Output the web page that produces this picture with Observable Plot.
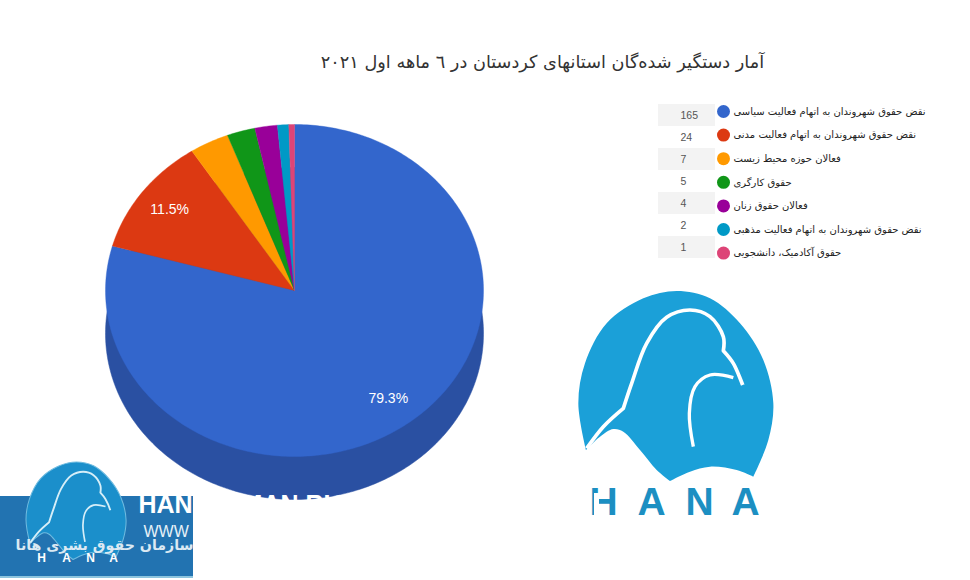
<!DOCTYPE html>
<html><head><meta charset="utf-8">
<script src="https://cdn.jsdelivr.net/npm/d3@7"></script>
<script src="https://cdn.jsdelivr.net/npm/@observablehq/plot@0.6"></script>
<style>html,body{margin:0;padding:0;background:#fff}svg{display:block}</style>
</head><body><div id="chart"></div>
<script>
const categories = [
  "نقض حقوق شهروندان به اتهام فعالیت سیاسی",
  "نقض حقوق شهروندان به اتهام فعالیت مدنی",
  "فعالان حوزه محیط زیست",
  "حقوق کارگری",
  "فعالان حقوق زنان",
  "نقض حقوق شهروندان به اتهام فعالیت مذهبی",
  "حقوق آکادمیک، دانشجویی"
];
const counts = [165, 24, 7, 5, 4, 2, 1];
const colors = ["#3366cc", "#dc3912", "#ff9900", "#109618", "#990099", "#0099c6", "#dd4477"];
const title = "آمار دستگیر شده‌گان استانهای کردستان در ٦ ماهه اول ٢٠٢١";

// Layout
const P = {cx: 294, cy: 290, rx: 189, ry: 166, depth: 43};
const ARABIC = "'DejaVu Sans', sans-serif", LATIN = "'Liberation Sans', Arial, sans-serif";
const total = d3.sum(counts);
const arcs = d3.pie().sort(null).startAngle(0).endAngle(2 * Math.PI)(counts);
const px = (a, k = 1) => P.cx + P.rx * k * Math.sin(a);
const py = (a, k = 1, dz = 0) => P.cy - P.ry * k * Math.cos(a) + dz;
function slicePts(arc, dz) {
  const n = Math.max(4, Math.ceil((arc.endAngle - arc.startAngle) * 60));
  const pts = [{x: P.cx, y: P.cy + dz}];
  for (let i = 0; i <= n; i++) {
    const a = arc.startAngle + (arc.endAngle - arc.startAngle) * i / n;
    pts.push({x: px(a), y: py(a, 1, dz)});
  }
  pts.push({x: P.cx, y: P.cy + dz});
  return pts;
}
const legendY = i => 111 + i * 23.6;
const valueY = i => 115 + i * 22;
const rows = categories.map((c, i) => ({c, v: counts[i], col: colors[i], i}));
const labels = arcs.filter(a => a.value / total > 0.05).map(a => {
  const m = (a.startAngle + a.endAngle) / 2;
  return {x: px(m, 0.82), y: py(m, 0.82), t: d3.format(".1%")(a.value / total)};
});

// Logo drawn in its own local coordinates
const outerA = [[78,510],[55,370],[75,250],[140,130],[250,55],[350,33],[450,55],[540,130],[610,240],[640,370],[625,480],[580,590]];
const outerB = [[580,590],[530,570],[450,560],[390,575],[330,603]];
const outerC = [[330,603],[290,570],[240,510],[190,455],[160,447],[120,470],[78,510]];
const wingA = [[80,505],[130,440],[190,385]];
const wingB = [[190,385],[215,310],[260,190],[320,112],[390,90],[450,110],[490,170],[490,212]];
const wingC = [[490,212],[520,250],[548,315]];
const inner = [[400,500],[388,400],[405,320],[450,285],[520,293]];
const cr = d3.line().curve(d3.curveCatmullRom);
const join = (...s) => s.map((p, i) => i ? cr(p).replace(/^M/, "L") : cr(p)).join("");
function logo(tx, ty, s, fill, lineStroke, edge) {
  return () => {
    const g = d3.create("svg:g").attr("transform", `translate(${tx},${ty}) scale(${s})`);
    g.append("path").attr("d", join(outerA, outerB, outerC) + "Z").attr("fill", fill)
      .attr("stroke", edge).attr("stroke-width", edge === "none" ? 0 : 6);
    g.append("path").attr("d", join(wingA, wingB, wingC)).attr("fill", "none")
      .attr("stroke", lineStroke).attr("stroke-width", 11).attr("stroke-linejoin", "round");
    g.append("path").attr("d", cr(inner)).attr("fill", "none")
      .attr("stroke", lineStroke).attr("stroke-width", 10);
    return g.node();
  };
}
const txt = (x, y, t, o) => Plot.text([t], {x: () => x, y: () => y, text: d => d, ...o});

const chart = Plot.plot({
  width: 970, height: 580, margin: 0,
  x: {domain: [0, 970], range: [0, 970], axis: null},
  y: {domain: [0, 580], range: [0, 580], axis: null},
  marks: [
    // pie: side wall then top
    ...arcs.map((a, i) => Plot.line(slicePts(a, P.depth), {x: "x", y: "y", fill: "#2a50a2", stroke: "#2a50a2", strokeWidth: 0.5})),
    ...arcs.map((a, i) => Plot.line(slicePts(a, 0), {x: "x", y: "y", fill: colors[i], stroke: colors[i], strokeWidth: 0.4})),
    Plot.text(labels, {x: "x", y: "y", text: "t", fill: "white", fontSize: 14, fontFamily: LATIN}),
    // title
    txt(542, 62, title, {fontSize: 17.7, fill: "#333", fontFamily: ARABIC}),
    // legend
    Plot.rect(rows.filter(d => d.i % 2 === 0), {x1: () => 658, x2: () => 715, y1: d => valueY(d.i) - 11, y2: d => valueY(d.i) + 11, fill: "#f3f3f3"}),
    Plot.text(rows, {x: () => 680, y: d => valueY(d.i), text: d => String(d.v), textAnchor: "start", fontSize: 10.5, fill: "#555", fontFamily: LATIN}),
    Plot.dot(rows, {x: () => 723, y: d => legendY(d.i), r: 6.5, fill: "col", stroke: "none"}),
    Plot.text(rows, {x: () => 733, y: d => legendY(d.i), text: "c", textAnchor: "start", fontSize: 10, fill: "#222", fontFamily: ARABIC}),
    // main logo
    logo(560, 280, 1 / 3, "#1ba0d8", "white", "none"),
    ...[["H", 603], ["A", 651], ["N", 699], ["A", 745]].map(([t, x]) =>
      txt(x, 502.5, t, {fontSize: 39, fontWeight: "bold", fill: "#1c8fc2", fontFamily: LATIN})),
    Plot.rect([0], {x1: () => 594, x2: () => 599, y1: () => 493, y2: () => 515, fill: "white"}),
    // footer banner
    Plot.rect([0], {x1: () => 0, x2: () => 193, y1: () => 496, y2: () => 576, fill: "#2273b1"}),
    Plot.rect([0], {x1: () => 0, x2: () => 193, y1: () => 576, y2: () => 578, fill: "#8cc4de"}),
    logo(16.6, 456.4, 0.171, "#1b8fcb", "#d6eef8", "#6fbbe0"),
    txt(138, 504, "HANA", {textAnchor: "start", fontSize: 25, fontWeight: "bold", fill: "white", fontFamily: LATIN}),
    txt(205, 504, "HUMAN RIGHTS", {textAnchor: "start", fontSize: 25, fontWeight: "bold", fill: "white", fontFamily: LATIN}),
    txt(143, 531, "WWW", {textAnchor: "start", fontSize: 16, fill: "#e6f1f8", fontFamily: LATIN}),
    txt(193, 545, "سازمان حقوق بشری هانا", {textAnchor: "end", fontSize: 14.2, fontWeight: "bold", fill: "#dbe9f3", fontFamily: ARABIC}),
    ...[["H", 41], ["A", 66], ["N", 90], ["A", 113]].map(([t, x]) =>
      txt(x, 558, t, {fontSize: 12, fontWeight: "bold", fill: "white", fontFamily: LATIN}))
  ]
});
document.getElementById("chart").append(chart);
</script>
</body></html>
